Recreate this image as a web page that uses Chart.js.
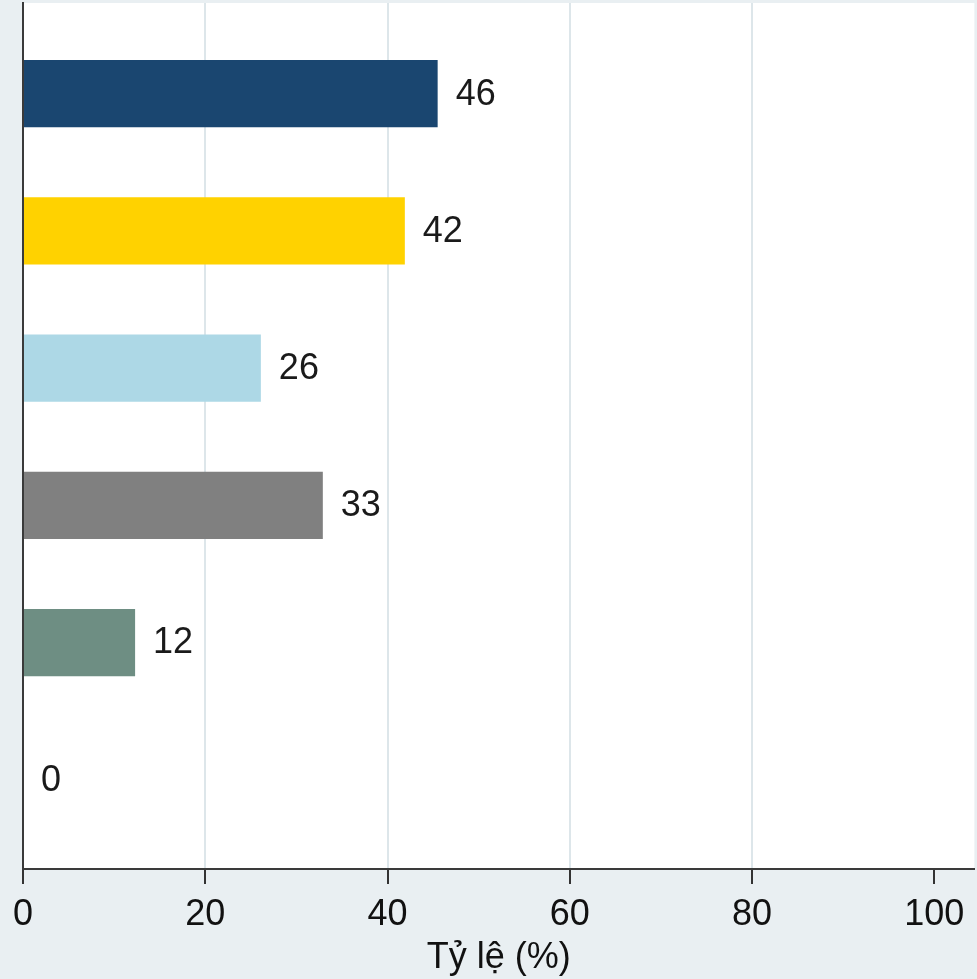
<!DOCTYPE html>
<html>
<head>
<meta charset="utf-8">
<script src="https://cdn.jsdelivr.net/npm/chart.js@4"></script>
<style>
html,body{margin:0;padding:0;background:#e9eff2;}
canvas{display:block;}
</style>
</head>
<body>
<canvas id="c" width="977" height="979"></canvas>
<script>
// Data
const categories = ["Nhóm 1", "Nhóm 2", "Nhóm 3", "Nhóm 4", "Nhóm 5", "Nhóm 6"];
const values = [45.5, 41.9, 26.1, 32.9, 12.3, 0];
const valueLabels = ["46", "42", "26", "33", "12", "0"];
const barColors = ["#1a4670", "#ffd200", "#add8e6", "#808080", "#6e8e83", "#c0c0c0"];
const xTicks = [0, 20, 40, 60, 80, 100];
const xTitle = "Tỷ lệ (%)";

const FONT = "'Liberation Sans', Arial, sans-serif";

const bgPlugin = {
  id: 'bg',
  beforeDraw(chart) {
    const {ctx, chartArea: a} = chart;
    ctx.save();
    ctx.fillStyle = '#e9eff2';
    ctx.fillRect(0, 0, chart.width, chart.height);
    ctx.fillStyle = '#ffffff';
    ctx.fillRect(a.left, a.top, a.right - a.left, a.bottom - a.top);
    ctx.restore();
  }
};

const labelPlugin = {
  id: 'vlabels',
  afterDatasetsDraw(chart) {
    const {ctx} = chart;
    const meta = chart.getDatasetMeta(0);
    ctx.save();
    ctx.font = "36px " + FONT;
    ctx.fillStyle = '#1a1a1a';
    ctx.textAlign = 'left';
    ctx.textBaseline = 'middle';
    meta.data.forEach((el, i) => {
      ctx.fillText(valueLabels[i], el.x + 18, el.y + 1);
    });
    ctx.restore();
  }
};

new Chart(document.getElementById('c'), {
  type: 'bar',
  data: {
    labels: categories,
    datasets: [{
      data: values.map((v, i) => ({x: v, y: i})),
      backgroundColor: barColors,
      borderWidth: 0,
      categoryPercentage: 1,
      barPercentage: 0.49
    }]
  },
  options: {
    indexAxis: 'y',
    responsive: false,
    animation: false,
    layout: {padding: {left: 15, right: -1, top: 3, bottom: 3}},
    plugins: {legend: {display: false}, tooltip: {enabled: false}},
    scales: {
      x: {
        type: 'linear',
        min: 0,
        max: 104.4,
        afterBuildTicks(scale) { scale.ticks = xTicks.map(v => ({value: v})); },
        grid: {
          color: ctx => (ctx.tick && ctx.tick.value > 0 && ctx.tick.value < 100) ? '#dde6ea' : 'rgba(0,0,0,0)',
          lineWidth: 2,
          drawTicks: true,
          tickLength: 15,
          tickColor: '#333333',
          tickWidth: 2
        },
        border: {display: true, color: '#3a3a3a', width: 2},
        ticks: {
          font: {family: FONT, size: 36, lineHeight: 1},
          color: '#111111',
          padding: 13,
          maxRotation: 0,
          autoSkip: false
        },
        title: {
          display: true,
          text: xTitle,
          font: {family: FONT, size: 36, lineHeight: 1},
          color: '#111111',
          padding: {top: -6, bottom: 0}
        }
      },
      y: {
        type: 'linear',
        reverse: true,
        offset: false,
        min: -0.66,
        max: 5.65,
        afterBuildTicks(scale) { scale.ticks = categories.map((c, i) => ({value: i})); },
        grid: {display: false, drawTicks: false},
        border: {display: true, color: '#3a3a3a', width: 2},
        ticks: {display: false}
      }
    }
  },
  plugins: [bgPlugin, labelPlugin]
});
</script>
</body>
</html>
